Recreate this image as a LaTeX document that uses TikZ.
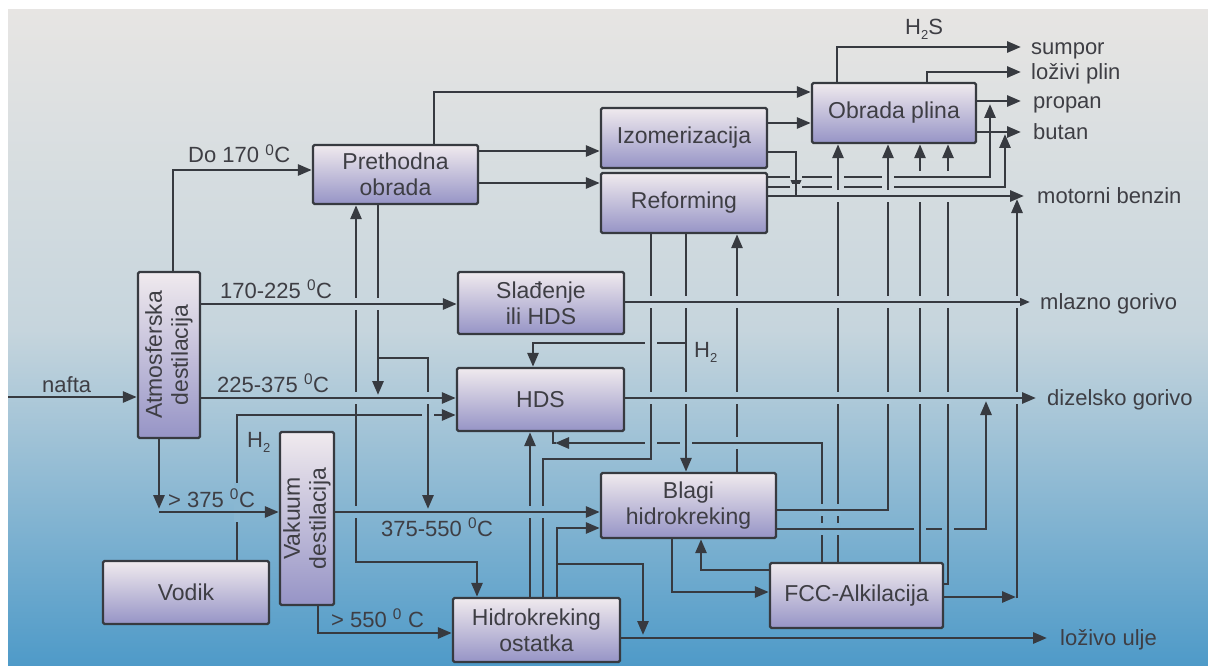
\documentclass[tikz,border=0pt]{standalone}
\usepackage{fontspec}
\setmainfont{Liberation Sans}
\usetikzlibrary{arrows.meta}
\definecolor{bgA}{RGB}{231,229,227}
\definecolor{bgB}{RGB}{198,213,221}
\definecolor{bgC}{RGB}{78,154,200}
\definecolor{boxT}{RGB}{240,234,238}
\definecolor{boxB}{RGB}{150,148,198}
\definecolor{lc}{RGB}{55,58,64}
\definecolor{txt}{RGB}{62,62,68}
\colorlet{patchc}{bgA}
\newcommand\setpatch[1]{%
  \pgfmathtruncatemacro\ppA{max(0,min(100,((#1)-10)/3.2))}%
  \pgfmathtruncatemacro\ppB{max(0,min(100,((#1)-330)/3.36))}%
  \ifnum\ppB>0 \colorlet{patchc}{bgC!\ppB!bgB}\else\colorlet{patchc}{bgB!\ppA!bgA}\fi}
% vertical line broken by a horizontal one
\newcommand\vbrk[2]{\setpatch{#2}\fill[patchc] ({#1-3.2},{#2-6}) rectangle ({#1+3.2},{#2+6});
  \draw[ln] ({#1-8.5},#2) -- ({#1+8.5},#2);}
% horizontal line broken by a vertical one
\newcommand\hbrk[2]{\setpatch{#2}\fill[patchc] ({#1-6},{#2-3.2}) rectangle ({#1+6},{#2+3.2});
  \draw[ln] (#1,{#2-8.5}) -- (#1,{#2+8.5});}
\newcommand\sub[1]{\raisebox{-5pt}{\fontsize{13}{13}\selectfont #1}}
\tikzset{
  ln/.style={draw=lc, line width=2.8pt},
  arr/.style={ln, -{Triangle[length=14pt,width=11pt]}},
  pbox/.style={draw=lc, line width=2.4pt, rounded corners=1.5pt, top color=boxT,
    bottom color=boxB, text=txt, font=\fontsize{23}{26}\selectfont, align=center, inner sep=0pt},
  lab/.style={text=txt, font=\fontsize{22}{26}\selectfont, inner sep=0pt},
}
\begin{document}
\begin{tikzpicture}[x=1pt,y=-1pt]
\useasboundingbox (0,0) rectangle (1208,666);
\fill[white] (0,0) rectangle (1208,666);
\shade[top color=bgA, bottom color=bgB] (8,10) rectangle (1208,330.5);
\shade[top color=bgB, bottom color=bgC] (8,330) rectangle (1208,666);

% boxes
\node[pbox, minimum width=165pt, minimum height=59pt] (pre) at (395.5,174.5) {Prethodna\\obrada};
\node[pbox, minimum width=166pt, minimum height=60pt] (izo) at (684,138) {Izomerizacija};
\node[pbox, minimum width=166pt, minimum height=60pt] (ref) at (684,203) {Reforming};
\node[pbox, minimum width=164pt, minimum height=60pt] (obr) at (894,113) {Obrada plina};
\node[pbox, minimum width=166pt, minimum height=62pt] (sla) at (541,303) {Slađenje\\ili HDS};
\node[pbox, minimum width=167pt, minimum height=63pt] (hds) at (540.5,399.5) {HDS};
\node[pbox, rotate=90, minimum width=166pt, minimum height=62pt] (atm) at (169,355) {Atmosferska\\destilacija};
\node[pbox, rotate=90, minimum width=173pt, minimum height=54pt] (vak) at (307,518.5) {Vakuum\\destilacija};
\node[pbox, minimum width=166pt, minimum height=63pt] (vod) at (186,592.5) {Vodik};
\node[pbox, minimum width=175pt, minimum height=65pt] (bla) at (688.5,505.5) {Blagi\\hidrokreking};
\node[pbox, minimum width=173pt, minimum height=65pt] (fcc) at (856.5,595.5) {FCC-Alkilacija};
\node[pbox, minimum width=167pt, minimum height=64pt] (hid) at (536.5,630) {Hidrokreking\\ostatka};

% left part
\coordinate (nf) at (8,397);
\draw[arr] (nf) -- (atm.north |- nf);
\draw[arr] (atm.east -| 173,0) |- (pre.west |- 0,170);
\draw[arr] (atm.south |- 0,304) -- (sla.west |- 0,304);
\draw[arr] (atm.south |- 0,398) -- (hds.west |- 0,398);
\coordinate (j375) at (159,512);
\draw[arr] (atm.west -| j375) -- (159,509);
\draw[arr] (j375) -- (vak.north |- j375);
\draw[arr] (vak.south |- 0,512) -- (bla.west |- 0,512);
\draw[arr] (vak.west -| 318,0) |- (hid.west |- 0,633);
\draw[arr] (vod.north -| 237,0) |- (hds.west |- 0,415);
\coordinate (jh) at (356,415);
\draw[arr] (jh) -- (pre.south -| jh);
\draw[arr] (jh) -- (356,562) -| (hid.north -| 477,0);
\coordinate (jp) at (378,358);
\draw[arr] (pre.south -| jp) -- (378,395);
\draw[arr] (jp) -| (428,509);

% upper part
\draw[arr] (pre.north -| 434,0) |- (obr.west |- 0,92);
\draw[arr] (pre.east |- 0,151) -- (izo.west |- 0,151);
\draw[arr] (pre.east |- 0,183) -- (ref.west |- 0,183);
\draw[arr] (izo.east |- 0,123) -- (obr.west |- 0,123);
\draw[arr] (izo.east |- 0,152) -| (796,193);
\draw[arr] (ref.east |- 0,196) -- (1024,196);
\draw[arr] (ref.east |- 0,177) -| (990,104);
\draw[arr] (ref.east |- 0,187) -| (1005,134);
\draw[arr] (obr.north -| 837,0) |- (1021,47);
\draw[arr] (obr.north -| 927,0) |- (1021,72);
\draw[arr] (obr.east |- 0,101) -- (1021,101);
\draw[arr] (obr.east |- 0,132) -- (1021,132);
\draw[arr] (sla.east |- 0,302) -- (1030,302);
\draw[arr] (hds.east |- 0,398) -- (1036,398);
\draw[arr] (hid.east |- 0,638) -- (1047,638);

% middle / lower part
\draw[ln] (ref.south -| 651,0) -- (651,459) -| (hid.north -| 543,0);
\draw[arr] (ref.south -| 686,0) -- (bla.north -| 686,0);
\draw[arr] (686,343) -| (hds.north -| 533,0);
\draw[arr] (bla.north -| 737,0) -- (ref.south -| 737,0);
\draw[arr] (fcc.north -| 822,0) |- (555,443);
\draw[ln] (hds.south -| 553,0) |- (556,443);
\draw[arr] (fcc.north -| 838,0) -- (obr.south -| 838,0);
\draw[arr] (bla.east |- 0,510) -| (obr.south -| 888,0);
\draw[arr] (fcc.north -| 920,0) -- (obr.south -| 920,0);
\draw[arr] (fcc.east |- 0,584) -| (obr.south -| 948,0);
\draw[arr] (bla.east |- 0,529) -| (986,401);
\coordinate (jf) at (1017,597);
\draw[arr] (fcc.east |- jf) -- (1016,597);
\draw[arr] (1017,598.4) -- (1017,199);
\draw[arr] (bla.south -| 672,0) |- (fcc.west |- 0,592);
\draw[arr] (fcc.west |- 0,570) -| (bla.south -| 701,0);
\draw[arr] (hid.north -| 530,0) -- (hds.south -| 530,0);
\coordinate (jk) at (557,564);
\draw[arr] (hid.north -| jk) |- (bla.west |- 0,528);
\draw[arr] (jk) -| (643,635);

% crossings
\foreach \x/\y in {428/415,651/443,686/443,651/343,796/177,796/187,838/177,838/187,888/177,888/187,920/529,948/529}
  {\hbrk{\x}{\y}}
\foreach \x/\y in {356/304,378/304,356/398,428/398,356/512,530/512,543/512,
  651/302,686/302,737/302,838/302,888/302,920/302,948/302,1017/302,
  651/398,686/398,737/398,838/398,888/398,920/398,948/398,1017/398,
  737/443,838/196,888/196,920/196,948/196,920/177,920/187,948/177,948/187,
  822/510,838/510,822/529,838/529}
  {\vbrk{\x}{\y}}
\setpatch{502}
\fill[patchc] (233.8,483) rectangle (240.2,522);
\draw[ln] (228,512) -- (246,512);

% labels
\node[lab, anchor=base west] (lnafta) at (42,392) {nafta};
\node[lab, anchor=base west] (ldo) at (188,163) {Do 170 \textsuperscript{0}C};
\node[lab, anchor=base west] (l1) at (220,298) {170-225 \textsuperscript{0}C};
\node[lab, anchor=base west] (l2) at (217,392) {225-375 \textsuperscript{0}C};
\node[lab, anchor=base west] (lh2a) at (247,447) {H\sub{2}};
\node[lab, anchor=base west] (l3) at (168,507) {> 375 \textsuperscript{0}C};
\node[lab, anchor=base west] (l4) at (381,536) {375-550 \textsuperscript{0}C};
\node[lab, anchor=base west] (l5) at (331,627) {> 550 \textsuperscript{0} C};
\node[lab, anchor=base west] (lh2b) at (694,357) {H\sub{2}};
\node[lab, anchor=base west] (lh2s) at (905,35) {H\sub{2}S};
\node[lab, anchor=base west] (o1) at (1031,55) {sumpor};
\node[lab, anchor=base west] (o2) at (1031,80) {loživi plin};
\node[lab, anchor=base west] (o3) at (1033,109) {propan};
\node[lab, anchor=base west] (o4) at (1033,140) {butan};
\node[lab, anchor=base west] (o5) at (1037,204) {motorni benzin};
\node[lab, anchor=base west] (o6) at (1040,309) {mlazno gorivo};
\node[lab, anchor=base west] (o7) at (1047,405) {dizelsko gorivo};
\node[lab, anchor=base west] (o8) at (1060,645) {loživo ulje};
\end{tikzpicture}
\end{document}
